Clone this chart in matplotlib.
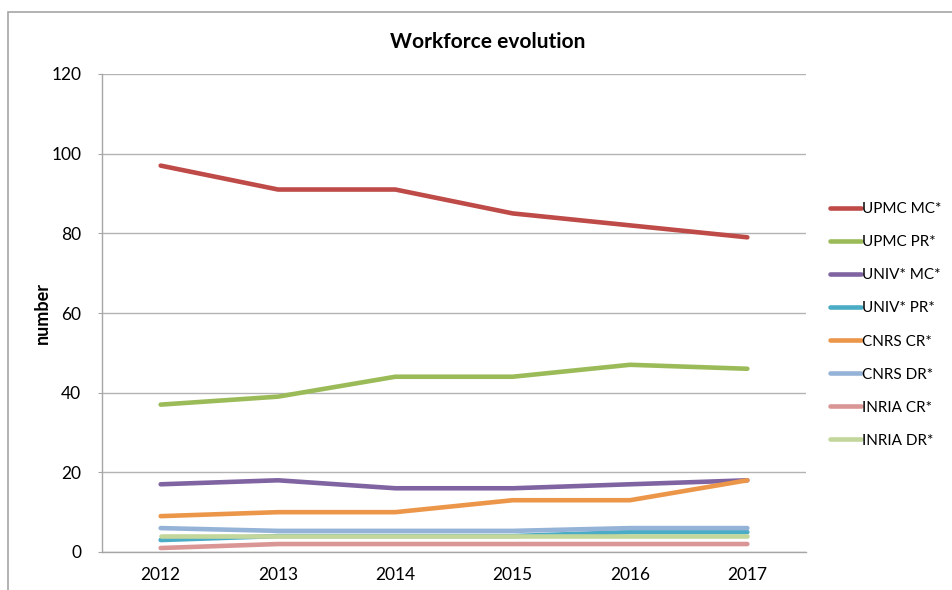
import matplotlib
matplotlib.use("Agg")
import matplotlib.pyplot as plt
from matplotlib.patches import Rectangle

plt.rcParams["font.family"] = ["Lato", "DejaVu Sans"]

years = ["2012", "2013", "2014", "2015", "2016", "2017"]

upmc_mc = [97, 91, 91, 85, 82, 79]
upmc_pr = [37, 39, 44, 44, 47, 46]
univ_mc = [17, 18, 16, 16, 17, 18]
univ_pr = [3, 4, 4, 4, 5, 5]
cnrs_cr = [9, 10, 10, 13, 13, 18]
cnrs_dr = [6, 5.3, 5.3, 5.3, 6, 6]
inria_cr = [1, 2, 2, 2, 2, 2]
inria_dr = [4, 4, 4, 4, 4, 4]

series_names = ["UPMC MC*", "UPMC PR*", "UNIV* MC*", "UNIV* PR*",
                "CNRS CR*", "CNRS DR*", "INRIA CR*", "INRIA DR*"]
series_values = [upmc_mc, upmc_pr, univ_mc, univ_pr,
                 cnrs_cr, cnrs_dr, inria_cr, inria_dr]
colors = ["#BE4B48", "#9BBB59", "#8064A2", "#4BACC6",
          "#EC964A", "#95B3D7", "#D99694", "#C3D69B"]

fig = plt.figure(figsize=(9.53, 5.9), dpi=100)
ax = fig.add_axes([102 / 953, 1 - 552 / 590, 704 / 953, 478 / 590])

x = list(range(len(years)))
for name, vals, col in zip(series_names, series_values, colors):
    ax.plot(x, vals, color=col, linewidth=3.3, solid_capstyle="round",
            solid_joinstyle="round", label=name)

ax.set_xlim(-0.5, len(years) - 0.5)
ax.set_ylim(0, 120)
ax.set_yticks(range(0, 121, 20))
ax.set_xticks(x)
ax.set_xticklabels(years)
ax.grid(axis="y", color="#B3B3B3", linewidth=1.0)
ax.set_axisbelow(True)
for side in ("top", "right"):
    ax.spines[side].set_visible(False)
for side in ("left", "bottom"):
    ax.spines[side].set_color("#A6A6A6")
    ax.spines[side].set_linewidth(1.0)
ax.tick_params(axis="y", length=3, color="#A6A6A6", labelsize=12.5, pad=12)
ax.tick_params(axis="x", length=0, labelsize=12.5, pad=11)
ax.set_ylabel("number", fontsize=13, fontweight="bold")
ax.yaxis.set_label_coords(-0.072, 0.5)

fig.text(488 / 953, 1 - 42 / 590, "Workforce evolution", ha="center",
         va="center", fontsize=15, fontweight="bold")

leg = ax.legend(loc="center left", bbox_to_anchor=(824 / 953, 1 - 325 / 590),
                bbox_transform=fig.transFigure, frameon=False, fontsize=11,
                handlelength=2.0, handletextpad=0.1, labelspacing=1.25,
                borderaxespad=0)

fig.patches.append(Rectangle((8 / 953, -0.1), 1.2, 1.1 - 12 / 590,
                             transform=fig.transFigure, fill=False,
                             edgecolor="#A6A6A6", linewidth=1.2))

fig.savefig("out.png", dpi=100, facecolor="white")
